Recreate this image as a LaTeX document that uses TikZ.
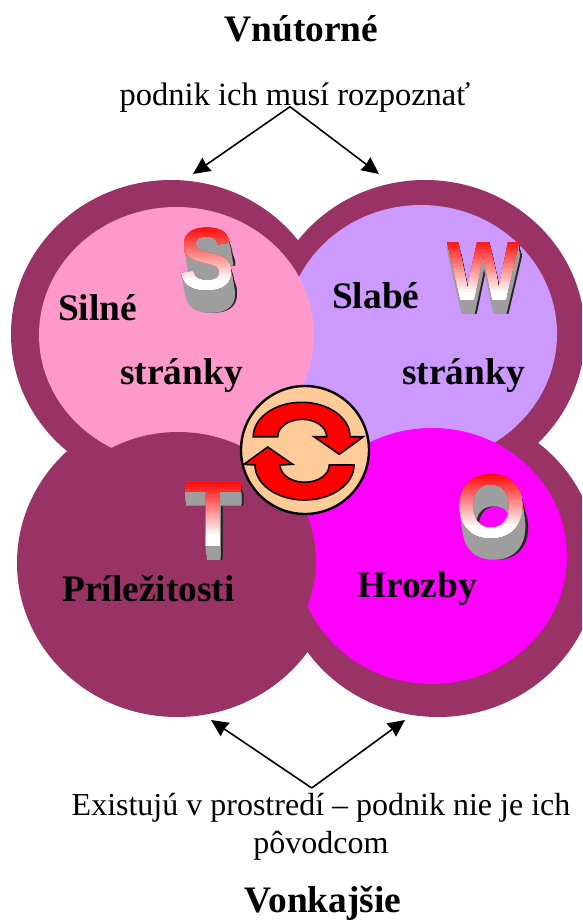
\documentclass[tikz,border=0pt]{standalone}
\usepackage{fontspec}
\setmainfont{Liberation Serif}
\newfontfamily\letterfont{Liberation Sans}
\usepackage{tikz}
\usetikzlibrary{arrows.meta}
\definecolor{ringmaroon}{HTML}{993366}
\definecolor{softpink}{HTML}{FF99CC}
\definecolor{softlilac}{HTML}{CC99FF}
\definecolor{hotmagenta}{HTML}{FF00FF}
\definecolor{softpeach}{HTML}{FFCC99}
\tikzset{
    titlenode/.style={
        font=\fontsize{37.4}{40}\selectfont\bfseries,
        anchor=base,
        inner sep=0pt
    },
    bodynode/.style={
        font=\fontsize{32}{38}\selectfont,
        align=center,
        anchor=base,
        inner sep=0pt
    },
    swotnode/.style={
        font=\fontsize{37.4}{40}\selectfont\bfseries,
        anchor=base west,
        inner sep=0pt
    },
    letternode/.style={
        font=\fontsize{#1}{#1}\letterfont\bfseries,
        inner sep=0pt
    },
    pointer/.style={
        line width=1.6pt,
        -{Stealth[inset=1pt,length=17pt,width=16pt]}
    },
    turnarrow/.style={
        fill=red,
        draw=black,
        line width=1.6pt,
        line join=miter
    }
}
\newcommand{\solidletter}[8]{%
    \foreach \k in {0,...,#8} {
        \node[letternode=#2,xscale=#3,text=black!85] (dark#1\k) at ({#5+(#7+2.5)*\k/#8},{#6+1.5*\k}) {#4};
    }
    \foreach \k in {0,...,#8} {
        \node[letternode=#2,xscale=#3,text=white!62!black] (side#1\k) at ({#5+#7*\k/#8},{#6+1.5*\k}) {#4};
    }
    \foreach \k in {0,...,27} {
        \pgfmathsetmacro{\pct}{max(0,100-100*\k/22)}
        \begin{scope}
            \clip (#5-50,{#6-35+2.5*\k}) rectangle (#5+50,#6+40);
            \node[letternode=#2,xscale=#3,text=red!\pct!white] (face#1\k) at (#5,#6) {#4};
        \end{scope}
    }
}
\begin{document}
\begin{tikzpicture}[x=1pt,y=-1pt]
\useasboundingbox (0,0) rectangle (582,920);
\clip (0,0) rectangle (582,920);

\fill[ringmaroon] (171,334) ellipse [x radius=160,y radius=154];
\fill[ringmaroon] (425,334) ellipse [x radius=160,y radius=154];
\fill[ringmaroon] (438,563) ellipse [x radius=160,y radius=154];
\fill[ringmaroon] (177,563) ellipse [x radius=160,y radius=154];
\fill[softlilac] (421,334) ellipse [x radius=136,y radius=129];
\fill[softpink] (176.5,335) ellipse [x radius=137.5,y radius=128];
\fill[hotmagenta] (432,556) ellipse [x radius=135,y radius=128];
\fill[ringmaroon] (178,561) ellipse [x radius=138,y radius=129];

\solidletter{S}{88}{0.94}{S}{207}{259.5}{4}{15}
\solidletter{W}{84}{0.91}{W}{483.5}{272}{1}{9}
\solidletter{T}{94}{1}{T}{213}{514.5}{1}{9}
\solidletter{O}{90}{1}{O}{491.5}{506.5}{3}{15}

\node[swotnode] (silne) at (58,320) {Silné};
\node[swotnode] (strankyS) at (120,384) {stránky};
\node[swotnode] (slabe) at (332,308) {Slabé};
\node[swotnode] (strankyW) at (402,384) {stránky};
\node[swotnode] (prilezitosti) at (62,601) {Príležitosti};
\node[swotnode] (hrozby) at (357,597) {Hrozby};

\node[circle,minimum size=128pt,inner sep=0pt,fill=softpeach,draw=black,line width=2.4pt] (hub) at (305,450) {};
\draw[turnarrow] (253.3,436.7) arc [start angle=180,end angle=360,x radius=48.35,y radius=34.4]
    -- (363.3,436.7) -- (339.3,454.3) -- (314,436.7) -- (326.7,436.7)
    arc [start angle=360,end angle=180,x radius=24.5,y radius=17.4] -- cycle;
\draw[turnarrow] (255,465) arc [start angle=180,end angle=0,x radius=49.5,y radius=35]
    -- (329.3,465) arc [start angle=0,end angle=180,x radius=24.65,y radius=17.3]
    -- (292.7,464.3) -- (267.7,447) -- (244,464.3) -- cycle;

\node[titlenode] (inner) at (301.5,42) {Vnútorné};
\node[bodynode,font=\fontsize{32.5}{38}\selectfont] (recognise) at (295,106) {podnik ich musí rozpoznať};
\coordinate (topfork) at (290,106.7);
\coordinate (topleft) at (193,174);
\coordinate (topright) at (379,174);
\draw[pointer] (topfork) -- (topleft);
\draw[pointer] (topfork) -- (topright);

\coordinate (lowfork) at (311.7,788);
\coordinate (lowleft) at (211,720);
\coordinate (lowright) at (405,720);
\draw[pointer] (lowfork) -- (lowleft);
\draw[pointer] (lowfork) -- (lowright);
\node[bodynode] (exist) at (321,815) {Existujú v prostredí – podnik nie je ich};
\node[bodynode] (origin) at (321,853) {pôvodcom};
\node[titlenode] (outer) at (323,912) {Vonkajšie};
\end{tikzpicture}
\end{document}
